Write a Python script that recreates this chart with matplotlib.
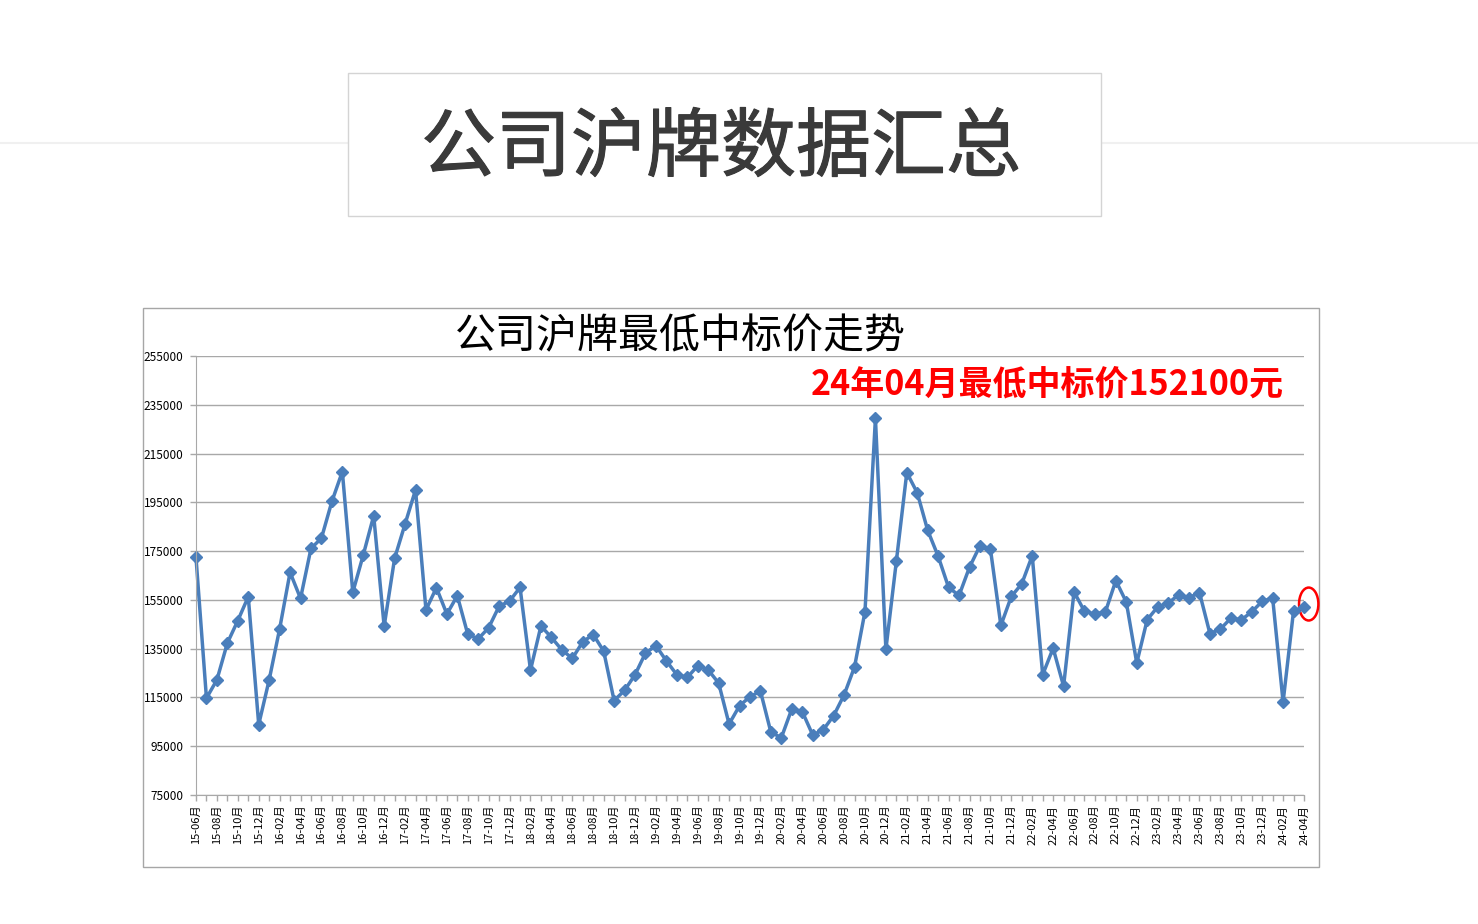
import matplotlib
matplotlib.use("Agg")
import matplotlib.pyplot as plt
import matplotlib.patheffects as pe
import numpy as np
import pandas as pd
from matplotlib.patches import Rectangle, Ellipse

plt.rcParams['font.family'] = ['Noto Sans CJK SC', 'DejaVu Sans']

# monthly lowest winning bid, 2015-06 .. 2024-04
months = [p.strftime("%y-%m") + "月" for p in pd.period_range("2015-06", "2024-04", freq="M")]
prices = [
    172400, 114700, 122200, 137300, 146500, 156300, 103900, 122200, 143100, 166300,
    155600, 176100, 180300, 195350, 207600, 158100, 173400, 189500, 144200, 172000,
    186100, 200100, 150900, 160000, 149200, 156700, 140900, 139000, 143600, 152400,
    154500, 160100, 126200, 144300, 139600, 134500, 131000, 137800, 140800, 134000,
    113700, 117900, 124300, 133200, 136200, 130000, 124300, 123200, 128000, 126300,
    120900, 104100, 111600, 115300, 117600, 100700, 98500, 110300, 109200, 99600,
    101700, 107500, 116000, 127500, 150200, 229500, 134700, 170800, 207200, 198900,
    183500, 172900, 160100, 156800, 168400, 177200, 175900, 144500, 156400, 161600,
    173100, 124300, 135200, 119600, 158300, 150300, 149200, 150100, 162900, 154100,
    129100, 146900, 152100, 153600, 157100, 155900, 158000, 141200, 143000, 147500,
    146800, 150100, 154400, 155800, 113100, 150500, 152100,
]
yticks = list(range(75000, 255001, 20000))

W, H = 1478, 924
fig = plt.figure(figsize=(W / 100, H / 100), dpi=100)
fig.patch.set_facecolor("white")

def fx(x):
    return x / W

def fy(y):
    return 1 - y / H

# faint page divider and the top title box
fig.add_artist(plt.Line2D([0, 1], [fy(143), fy(143)], color="#f0f0f0", lw=1.5, zorder=-10))
fig.add_artist(Rectangle((fx(348), fy(216)), fx(1101) - fx(348), fy(73) - fy(216),
                         transform=fig.transFigure, facecolor="white",
                         edgecolor="#d4d4d4", lw=1, zorder=-9))
fig.text(fx(721), fy(149), "公司沪牌数据汇总", ha="center", va="center",
         fontsize=54, color="#3a3a3a",
         path_effects=[pe.withStroke(linewidth=0.8, foreground="#3a3a3a")])

# chart frame
fig.add_artist(Rectangle((fx(143), fy(867)), fx(1319) - fx(143), fy(308) - fy(867),
                         transform=fig.transFigure, facecolor="white",
                         edgecolor="#a6a6a6", lw=1, zorder=-9))

ax = fig.add_axes([fx(196), fy(795), fx(1304) - fx(196), fy(356) - fy(795)])
ax.patch.set_alpha(0)
x = np.arange(len(prices))
ax.plot(x, prices, color="#4a7ebb", lw=2.5, marker="D", markersize=6.2,
        markerfacecolor="#4a7ebb", markeredgecolor="#4a7ebb", clip_on=False)

ax.set_xlim(0, len(prices) - 1)
ax.set_ylim(yticks[0], yticks[-1])
ax.set_yticks(yticks)
ax.set_yticklabels([str(v) for v in yticks], fontsize=8.5)
ax.set_xticks(x)
ax.set_xticklabels([m if i % 2 == 0 else "" for i, m in enumerate(months)],
                   rotation=90, fontsize=8)
ax.grid(axis="y", color="#a8a8a8", lw=1)
ax.set_axisbelow(True)
for s in ["top", "right"]:
    ax.spines[s].set_visible(False)
for s in ["left", "bottom"]:
    ax.spines[s].set_color("#a8a8a8")
ax.tick_params(axis="both", colors="#a8a8a8", length=4, width=1, labelcolor="black")
ax.tick_params(axis="y", pad=5)
ax.tick_params(axis="x", pad=3)

# highlight latest month
last = len(prices) - 1
ax.add_patch(Ellipse((last + 0.45, prices[-1] + 1200), 1.85, 13500, fill=False,
                     edgecolor="red", lw=1.8, clip_on=False))

fig.text(fx(680), fy(337), "公司沪牌最低中标价走势", ha="center", va="center",
         fontsize=29.5, color="black")
fig.text(fx(811), fy(384), "24年04月最低中标价152100元", ha="left", va="center",
         fontsize=24.5, color="#ff0000", fontweight="bold")

fig.savefig("out.png", dpi=100)
